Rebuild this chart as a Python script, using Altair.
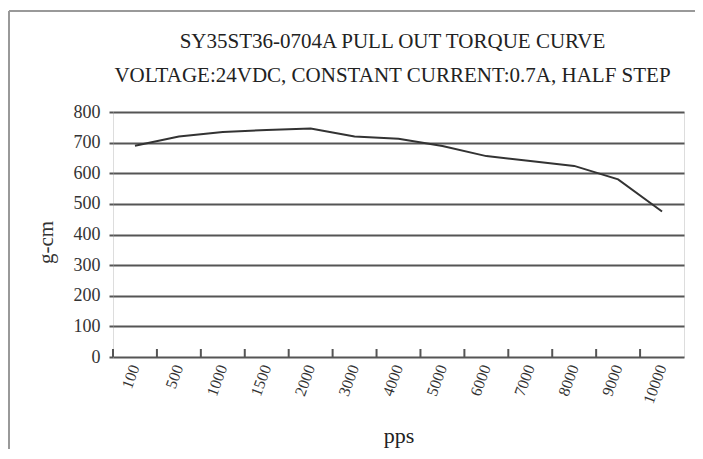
import altair as alt
import pandas as pd

pps = ["100", "500", "1000", "1500", "2000", "3000", "4000", "5000",
       "6000", "7000", "8000", "9000", "10000"]
torque = [690, 720, 735, 741, 746, 720, 713, 689, 656, 640, 624, 580, 475]
title_lines = ["SY35ST36-0704A PULL OUT TORQUE CURVE",
               "VOLTAGE:24VDC, CONSTANT CURRENT:0.7A, HALF STEP"]
y_ticks = [0, 100, 200, 300, 400, 500, 600, 700, 800]

df = pd.DataFrame({"pps": pps, "torque": torque})

SERIF = "Liberation Serif"
W, H = 571, 245

xscale = alt.Scale(type="band", domain=pps, paddingInner=0, paddingOuter=0)
yscale = alt.Scale(domain=[0, 800], nice=False)

xaxis = alt.Axis(
    title="pps", labelAngle=290, labelAlign="right", labelBaseline="middle",
    labelFont=SERIF, labelFontSize=16, labelColor="#333", labelPadding=8,
    ticks=False, domain=False, grid=False,
    titleFont=SERIF, titleFontSize=22, titleFontWeight="normal", titleColor="#222",
    titleX=W / 2, titleY=78, titleBaseline="middle", titleAlign="center",
)
yaxis = alt.Axis(
    title="g-cm", values=y_ticks, grid=True, gridColor="#555", gridWidth=2,
    labelFont=SERIF, labelFontSize=18, labelColor="#333", labelPadding=9,
    tickSize=4, tickColor="#555", tickWidth=2, domain=False,
    titleFont=SERIF, titleFontSize=21, titleFontWeight="normal", titleColor="#333",
    titleAngle=270, titleX=-67, titleY=130, titleBaseline="middle", titleAlign="center",
)

line = alt.Chart(df).mark_line(color="#333", strokeWidth=2).encode(
    x=alt.X("pps:N", scale=xscale, axis=xaxis, bandPosition=0.5),
    y=alt.Y("torque:Q", scale=yscale, axis=yaxis),
)

ticks = alt.Chart(df).mark_rule(color="#555", strokeWidth=2).encode(
    x=alt.X("pps:N", scale=xscale, bandPosition=0),
    y=alt.value(H),
    y2=alt.value(H - 8),
)

border_left = alt.Chart(alt.Data(values=[{"a": 1}])).mark_rule(
    color="#999", strokeWidth=2
).encode(x=alt.value(-104), y=alt.value(-101), y2=alt.value(345))
border_top = alt.Chart(alt.Data(values=[{"a": 1}])).mark_rule(
    color="#999", strokeWidth=2
).encode(x=alt.value(-104), x2=alt.value(600), y=alt.value(-101))

title_df = pd.DataFrame({"line": title_lines, "row": [0, 1]})
title = alt.Chart(title_df).mark_text(
    font=SERIF, fontSize=21, color="#222", align="center", baseline="alphabetic", dx=-6
).encode(
    text="line:N",
    x=alt.value(W / 2),
    y=alt.Y("row:O", scale=alt.Scale(type="point", domain=[0, 1], range=[-64, -30], padding=0), axis=None),
)

chart = alt.layer(border_left, border_top, line, ticks, title).properties(
    width=W, height=H,
    autosize=alt.AutoSizeParams(type="none"),
    padding={"left": 105, "top": 104, "right": 11, "bottom": 92},
).configure_view(stroke="#555", strokeWidth=2).configure(background="white")

chart.save("out.html", embed_options={"renderer": "svg", "actions": False})
